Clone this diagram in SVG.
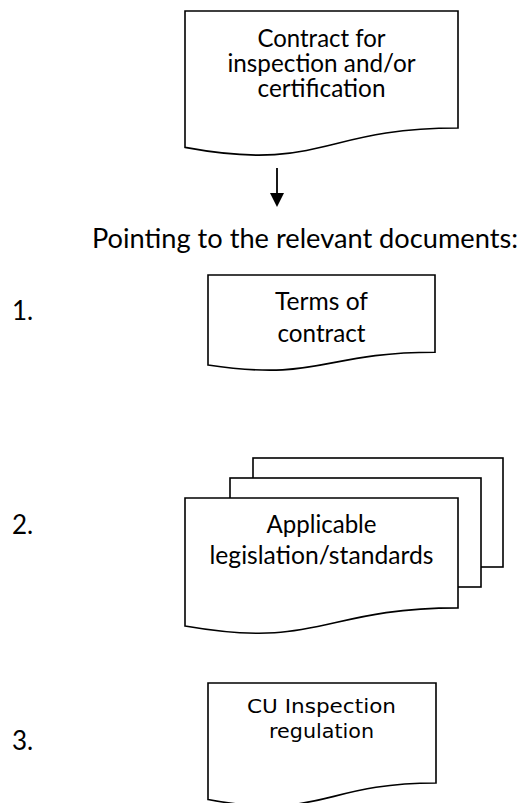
<svg xmlns="http://www.w3.org/2000/svg" width="523" height="803" viewBox="0 0 523 803">
<style>
.doc{fill:#fff;stroke:#000;stroke-width:1.6;stroke-linejoin:miter}
.t{font-family:Lato,"Open Sans","Liberation Sans",sans-serif;font-size:25px;fill:#000;text-anchor:middle}
.lbl{font-family:Lato,"Open Sans","Liberation Sans",sans-serif;font-size:26px;fill:#000}
.v{font-family:"DejaVu Sans",Verdana,sans-serif;font-size:20px;fill:#000;text-anchor:middle}
.conn{stroke:#000;stroke-width:1.8;fill:none}
</style>
<defs>
<marker id="ah" markerWidth="14" markerHeight="14" refX="0" refY="7" orient="auto" markerUnits="userSpaceOnUse">
<path d="M0,0 L14,7 L0,14 Z" fill="#000"/>
</marker>
</defs>
<rect width="523" height="803" fill="#fff"/>

<g id="contract-doc">
<path class="doc" d="M185,11 H458 V128 C321.5,128 321.5,172.7 185,147.4 Z"/>
<text class="t" x="321.5" y="47" textLength="128" lengthAdjust="spacingAndGlyphs">Contract for</text>
<text class="t" x="321.5" y="72" textLength="188" lengthAdjust="spacingAndGlyphs">inspection and/or</text>
<text class="t" x="321.5" y="97" textLength="128" lengthAdjust="spacingAndGlyphs">certification</text>
</g>

<g id="connectors">
<line class="conn" x1="277" y1="168" x2="277" y2="193" marker-end="url(#ah)"/>
</g>

<g id="heading">
<text class="lbl" x="92" y="248" font-size="28.5" textLength="426" lengthAdjust="spacingAndGlyphs">Pointing to the relevant documents:</text>
</g>

<g id="label-1"><text class="lbl" x="12" y="320">1.</text></g>
<g id="terms-doc">
<path class="doc" d="M208,275 H435 V352.3 C321.5,352.3 321.5,381.8 208,365 Z"/>
<text class="t" x="321.5" y="310" textLength="93" lengthAdjust="spacingAndGlyphs">Terms of</text>
<text class="t" x="321.5" y="342" textLength="88" lengthAdjust="spacingAndGlyphs">contract</text>
</g>

<g id="label-2"><text class="lbl" x="12" y="534">2.</text></g>
<g id="legislation-doc">
<rect class="doc" x="253" y="458" width="250" height="109"/>
<rect class="doc" x="230" y="478" width="251" height="109"/>
<path class="doc" d="M185,498 H458 V607.9 C321.5,607.9 321.5,649.7 185,626 Z"/>
<text class="t" x="321.5" y="533" textLength="110" lengthAdjust="spacingAndGlyphs">Applicable</text>
<text class="t" x="321.5" y="564" textLength="224" lengthAdjust="spacingAndGlyphs">legislation/standards</text>
</g>

<g id="label-3"><text class="lbl" x="12" y="750">3.</text></g>
<g id="cu-doc">
<path class="doc" d="M208,683 H436 V783 C322,783 322,821 208,799.5 Z"/>
<text class="v" x="321.5" y="713" textLength="149" lengthAdjust="spacingAndGlyphs">CU Inspection</text>
<text class="v" x="321.5" y="738" textLength="105" lengthAdjust="spacingAndGlyphs">regulation</text>
</g>
</svg>
